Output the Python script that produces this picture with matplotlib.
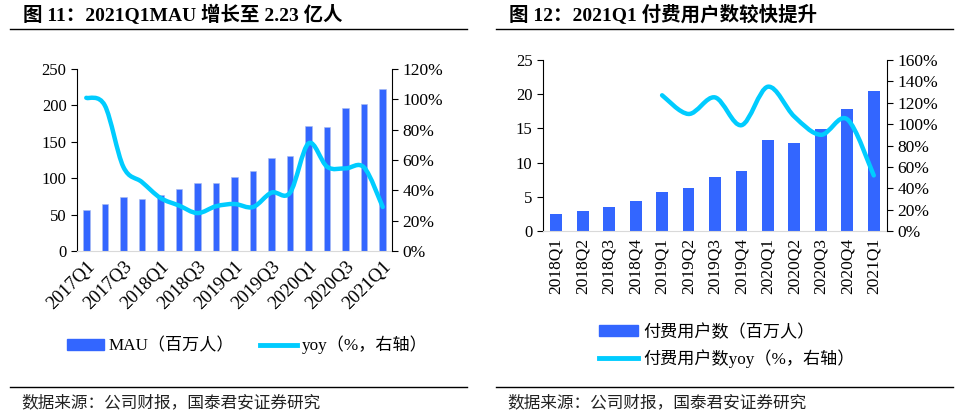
import numpy as np
import matplotlib
matplotlib.use("Agg")
import matplotlib.pyplot as plt
from matplotlib.path import Path
from matplotlib.patches import PathPatch, Patch
from matplotlib.lines import Line2D

plt.rcParams['font.family'] = ['Liberation Serif', 'Noto Sans CJK SC']

# 数据
mau_quarters = ['2017Q1', '2017Q2', '2017Q3', '2017Q4', '2018Q1', '2018Q2', '2018Q3', '2018Q4',
                '2019Q1', '2019Q2', '2019Q3', '2019Q4', '2020Q1', '2020Q2', '2020Q3', '2020Q4', '2021Q1']
mau = [57, 65, 74, 72, 77, 85, 93, 93, 101, 110, 128, 130, 172, 171, 197, 202, 223]
mau_yoy = [101, 96, 55.5, 45.5, 35, 30, 25, 29.5, 31, 29, 38.5, 38.5, 71, 55.5, 54.5, 55, 29]

paid_quarters = ['2018Q1', '2018Q2', '2018Q3', '2018Q4', '2019Q1', '2019Q2', '2019Q3', '2019Q4',
                 '2020Q1', '2020Q2', '2020Q3', '2020Q4', '2021Q1']
paid = [2.5, 2.9, 3.5, 4.4, 5.7, 6.3, 7.9, 8.8, 13.3, 12.9, 14.9, 17.8, 20.5]
paid_yoy = [None, None, None, None, 127, 109.5, 125, 99, 135, 107, 90, 104.5, 52]

BLUE = '#3366FF'
CYAN = '#00CCFF'


def smooth_path(xs, ys):
    # Excel 风格平滑线 (Catmull-Rom -> Bezier)
    pts = np.column_stack([xs, ys])
    verts = [pts[0]]
    codes = [Path.MOVETO]
    n = len(pts)
    for i in range(n - 1):
        p0 = pts[i - 1] if i > 0 else pts[i]
        p1 = pts[i]
        p2 = pts[i + 1]
        p3 = pts[i + 2] if i + 2 < n else pts[i + 1]
        c1 = p1 + (p2 - p0) / 6.0
        c2 = p2 - (p3 - p1) / 6.0
        verts += [c1, c2, p2]
        codes += [Path.CURVE4] * 3
    return Path(verts, codes)


def style_axes(ax, ax2, xsize):
    for s in ['top', 'right']:
        ax.spines[s].set_visible(False)
    for s in ['top', 'left']:
        ax2.spines[s].set_visible(False)
    ax2.spines['bottom'].set_visible(False)
    ax.spines['bottom'].set_color('#d9d9d9')
    ax.tick_params(axis='x', length=0, labelsize=xsize, pad=5)
    ax.tick_params(axis='y', labelsize=12, length=4, direction='out')
    ax2.tick_params(axis='y', labelsize=12.5, length=4, direction='out')


fig = plt.figure(figsize=(9.67, 4.18), dpi=100)

# ---- 左图 ----
ax1 = fig.add_axes([77 / 967, 1 - 251 / 418, 315 / 967, 182 / 418])
x1 = np.arange(len(mau))
ax1.bar(x1, mau, width=0.35, color=BLUE, edgecolor='#aabbee', linewidth=0.4)
ax1.set_ylim(0, 250)
ax1.set_yticks(range(0, 251, 50))
ax1.set_xlim(-0.5, len(mau) - 0.5)
ax1.set_xticks(x1[::2])
ax1.set_xticklabels(mau_quarters[::2], rotation=45, ha='right', rotation_mode='anchor')
ax1r = ax1.twinx()
ax1r.set_ylim(0, 120)
ax1r.set_yticks(range(0, 121, 20))
ax1r.set_yticklabels([f'{v}%' for v in range(0, 121, 20)])
ax1r.add_patch(PathPatch(smooth_path(x1, mau_yoy), fill=False, edgecolor=CYAN, lw=3.2,
                         capstyle='round', joinstyle='round'))
style_axes(ax1, ax1r, 13.5)

# ---- 右图 ----
ax2 = fig.add_axes([543 / 967, 1 - 231 / 418, 344 / 967, 171 / 418])
x2 = np.arange(len(paid))
ax2.bar(x2, paid, width=0.45, color=BLUE)
ax2.set_ylim(0, 25)
ax2.set_yticks(range(0, 26, 5))
ax2.set_xlim(-0.5, len(paid) - 0.5)
ax2.set_xticks(x2)
ax2.set_xticklabels(paid_quarters, rotation=90, va='top')
ax2r = ax2.twinx()
ax2r.set_ylim(0, 160)
ax2r.set_yticks(range(0, 161, 20))
ax2r.set_yticklabels([f'{v}%' for v in range(0, 161, 20)])
yx = [i for i, v in enumerate(paid_yoy) if v is not None]
yv = [v for v in paid_yoy if v is not None]
ax2r.add_patch(PathPatch(smooth_path(np.array(yx, float), np.array(yv, float)), fill=False,
                         edgecolor=CYAN, lw=3.2, capstyle='round', joinstyle='round'))
style_axes(ax2, ax2r, 12.5)

# ---- 图例 ----
fig.legend(handles=[Patch(color=BLUE, label='MAU（百万人）'),
                    Line2D([], [], color=CYAN, lw=3.5, label='yoy（%，右轴）')],
           loc='center', bbox_to_anchor=(247 / 967, 1 - 345 / 418), ncol=2, frameon=False,
           fontsize=12.3, handlelength=2.2, handleheight=0.6, columnspacing=1.5, handletextpad=0.25)
fig.legend(handles=[Patch(color=BLUE, label='付费用户数（百万人）'),
                    Line2D([], [], color=CYAN, lw=3.5, label='付费用户数yoy（%，右轴）')],
           loc='center', bbox_to_anchor=(727 / 967, 1 - 346 / 418), ncol=1, frameon=False,
           fontsize=12.3, handlelength=2.3, handleheight=0.6, labelspacing=0.5, handletextpad=0.3)

# ---- 标题和来源 ----
for x0, x1_, title in [(10, 467, '图 11：2021Q1MAU 增长至 2.23 亿人'),
                       (496, 953, '图 12：2021Q1 付费用户数较快提升')]:
    fig.text(x0 / 967 + 0.013, 1 - 15 / 418, title, fontsize=14, fontweight='bold', va='center')
    fig.add_artist(Line2D([x0 / 967, x1_ / 967], [1 - 29 / 418] * 2, color='black', lw=1))
    fig.add_artist(Line2D([x0 / 967, x1_ / 967], [1 - 387 / 418] * 2, color='black', lw=1))
    fig.text(x0 / 967 + 0.012, 1 - 403 / 418, '数据来源：公司财报，国泰君安证券研究',
             fontsize=12, va='center', color='#222222')

fig.savefig('out.png', dpi=100)
